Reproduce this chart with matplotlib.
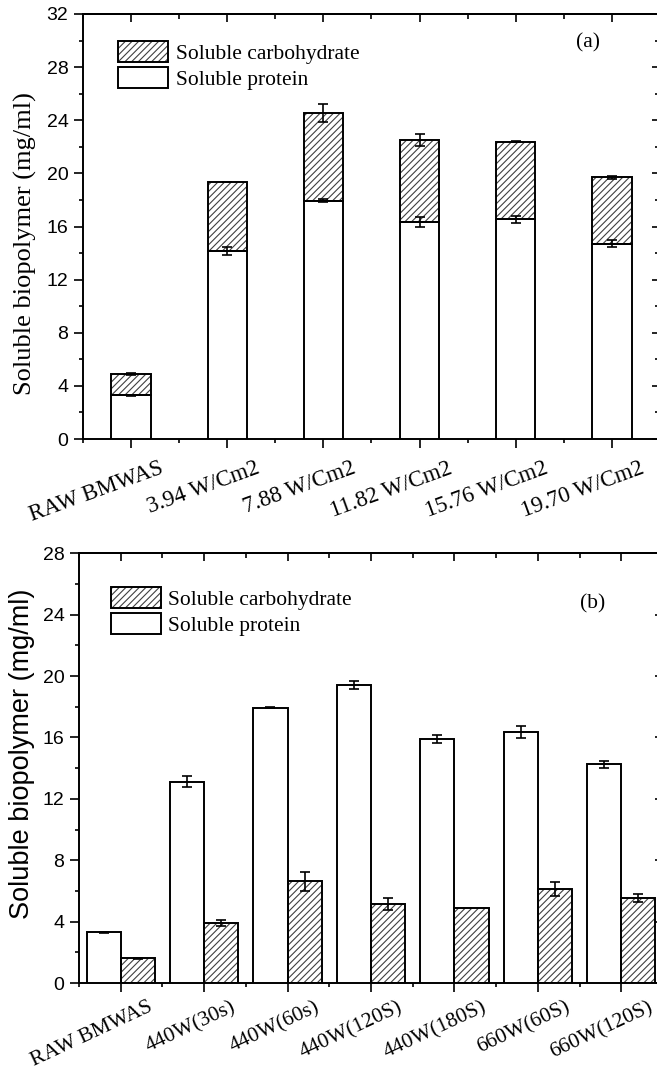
import numpy as np
import matplotlib
matplotlib.use("Agg")
import matplotlib.pyplot as plt
import matplotlib.transforms as mtransforms
from matplotlib.patches import Patch
from matplotlib.ticker import MultipleLocator, FixedLocator
from matplotlib.legend_handler import HandlerTuple

serif = 'Liberation Serif'
sans = 'Liberation Sans'
plt.rcParams['hatch.linewidth'] = 0.8

# ---------------- data (a) ----------------
labels_a = ['RAW BMWAS', '3.94 W/Cm2', '7.88 W/Cm2', '11.82 W/Cm2',
            '15.76 W/Cm2', '19.70 W/Cm2']
protein_a = [3.3, 14.15, 17.95, 16.35, 16.55, 14.7]
carb_a = [1.6, 5.2, 6.6, 6.15, 5.85, 5.0]
protein_a_err = [0.05, 0.3, 0.1, 0.35, 0.25, 0.25]
total_a_err = [0.08, 0.03, 0.65, 0.45, 0.06, 0.1]

# ---------------- data (b) ----------------
labels_b = ['RAW BMWAS', '440W(30s)', '440W(60s)', '440W(120S)',
            '440W(180S)', '660W(60S)', '660W(120S)']
protein_b = [3.3, 13.13, 17.95, 19.4, 15.9, 16.35, 14.25]
protein_b_err = [0.03, 0.38, 0.06, 0.27, 0.26, 0.4, 0.23]
carb_b = [1.6, 3.9, 6.63, 5.15, 4.89, 6.15, 5.52]
carb_b_err = [0.05, 0.2, 0.63, 0.42, 0.0, 0.45, 0.27]

hatch = '/////'
hatch_col = '#404040'
lw = 1.4
W = 657
H = 1072

fig = plt.figure(figsize=(6.57, 10.72), dpi=100)
ax1 = fig.add_axes([83/W, 1-439/H, 577/W, 425/H])
ax2 = fig.add_axes([79/W, 1-983/H, 584/W, 429.7/H])


def hatched_bar(ax, x, h, bottom, width):
    ax.bar(x, h, width, bottom=bottom, color='white', edgecolor=hatch_col,
           hatch=hatch, lw=0, zorder=2)
    ax.bar(x, h, width, bottom=bottom, color='none', edgecolor='k',
           lw=lw, zorder=3)


def plain_bar(ax, x, h, width):
    ax.bar(x, h, width, color='white', edgecolor='k', lw=lw, zorder=3)


def errbars(ax, x, y, e):
    x = np.asarray(x, float)
    y = np.asarray(y, float)
    e = np.asarray(e, float)
    m = e > 0
    ax.errorbar(x[m], y[m], yerr=e[m], fmt='none', ecolor='k', elinewidth=1.2,
                capsize=3.8, capthick=1.2, zorder=5)


def style_axes(ax, n, ymax, labels, dx, dy, rot, fs):
    ax.set_xlim(-0.5, n - 0.5)
    ax.set_ylim(0, ymax)
    ax.xaxis.set_major_locator(FixedLocator(np.arange(n)))
    ax.xaxis.set_minor_locator(FixedLocator(np.arange(-0.5, n, 1)))
    ax.yaxis.set_major_locator(MultipleLocator(4))
    ax.yaxis.set_minor_locator(MultipleLocator(2))
    for s in ax.spines.values():
        s.set_linewidth(lw)
    ax.tick_params(which='major', direction='out', length=6.5, width=1.2,
                   labelsize=14, pad=4)
    ax.tick_params(which='minor', direction='out', length=3, width=1.2)
    ax.set_xticklabels([])
    for t in ax.get_yticklabels():
        t.set_fontfamily(sans)
    # top / right ticks pointing inward
    top = ax.secondary_xaxis('top')
    top.xaxis.set_major_locator(FixedLocator(np.arange(n)))
    top.xaxis.set_minor_locator(FixedLocator(np.arange(-0.5, n, 1)))
    top.tick_params(which='major', direction='in', length=6, width=1.2,
                    labeltop=False)
    top.tick_params(which='minor', direction='in', length=3.5, width=1.2)
    top.spines['top'].set_linewidth(lw)
    right = ax.secondary_yaxis('right')
    right.yaxis.set_major_locator(MultipleLocator(4))
    right.yaxis.set_minor_locator(MultipleLocator(2))
    right.tick_params(which='major', direction='in', length=6, width=1.2,
                      labelright=False)
    right.tick_params(which='minor', direction='in', length=3.5, width=1.2)
    right.spines['right'].set_linewidth(lw)
    # rotated category labels
    trans = mtransforms.blended_transform_factory(ax.transData, ax.transAxes)
    off = mtransforms.ScaledTranslation(dx/100, -dy/100, fig.dpi_scale_trans)
    for i, lab in enumerate(labels):
        ax.text(i, 0, lab, transform=trans + off, rotation=rot, ha='right',
                va='top', fontsize=fs, fontfamily=serif)


def add_legend(ax, x, y):
    h1 = (Patch(facecolor='white', edgecolor=hatch_col, hatch=hatch, lw=0),
          Patch(facecolor='none', edgecolor='k', lw=lw))
    h2 = Patch(facecolor='white', edgecolor='k', lw=lw)
    ax.legend([h1, h2], ['Soluble carbohydrate', 'Soluble protein'],
              handler_map={tuple: HandlerTuple(ndivide=1, pad=0)},
              loc='upper left', bbox_to_anchor=(x, y), frameon=False,
              borderpad=0, borderaxespad=0, handlelength=2.3,
              handleheight=1.15, labelspacing=0.15, handletextpad=0.35,
              prop={'family': serif, 'size': 15.5})


# ---------------- panel (a) ----------------
xa = np.arange(len(labels_a))
wa = 0.41
plain_bar(ax1, xa, protein_a, wa)
hatched_bar(ax1, xa, carb_a, protein_a, wa)
total_a = np.array(protein_a) + np.array(carb_a)
errbars(ax1, xa, protein_a, protein_a_err)
errbars(ax1, xa, total_a, total_a_err)
style_axes(ax1, len(labels_a), 32, labels_a, 35, 19, 20, 16.5)
ax1.set_ylabel('Soluble biopolymer (mg/ml)', fontfamily=serif, fontsize=19)
ax1.yaxis.set_label_coords(-0.080, 0.459)
add_legend(ax1, 0.0615, 0.937)
ax1.text(0.875, 0.932, '(a)', transform=ax1.transAxes, ha='center',
         va='center', fontsize=15.5, fontfamily=serif)

# ---------------- panel (b) ----------------
xb = np.arange(len(labels_b))
wb = 0.41
plain_bar(ax2, xb - wb/2, protein_b, wb)
hatched_bar(ax2, xb + wb/2, carb_b, 0, wb)
errbars(ax2, xb - wb/2, protein_b, protein_b_err)
errbars(ax2, xb + wb/2, carb_b, carb_b_err)
style_axes(ax2, len(labels_b), 28, labels_b, 35, 15, 25, 15.5)
ax2.set_ylabel('Soluble biopolymer (mg/ml)', fontfamily=sans, fontsize=19.5)
ax2.yaxis.set_label_coords(-0.075, 0.533)
add_legend(ax2, 0.055, 0.922)
ax2.text(0.88, 0.882, '(b)', transform=ax2.transAxes, ha='center',
         va='center', fontsize=15.5, fontfamily=serif)

fig.savefig('out.png', dpi=100)
